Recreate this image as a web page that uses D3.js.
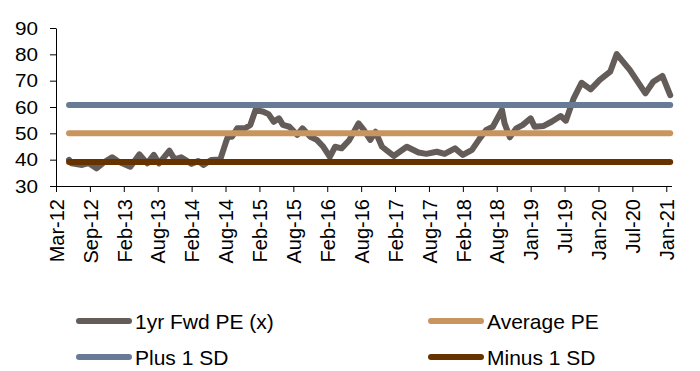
<!DOCTYPE html>
<html><head><meta charset="utf-8">
<script src="https://cdn.jsdelivr.net/npm/d3@7"></script>
<style>
body{margin:0;background:#fff}
svg{display:block}
text{font-family:Arial,"Liberation Sans",sans-serif;fill:#000}
</style>
</head><body>
<svg id="chart" width="700" height="371"></svg>
<script>
// ---- data ----
const tickLabels = ["Mar-12","Sep-12","Feb-13","Aug-13","Feb-14","Aug-14","Feb-15","Aug-15","Feb-16","Aug-16","Feb-17","Aug-17","Feb-18","Aug-18","Jan-19","Jul-19","Jan-20","Jul-20","Jan-21"];
const weeksPerLabel = 26;
const yTicks = [30,40,50,60,70,80,90];
const peWeeks = [10,12,20,25,31,36,43,48,53,57,64,70,75,79,87,91,96,104,109,113,119,126,130,132,135,139,145,149,153,159,163,167,171,174,179,185,189,195,200,205,210,214,219,225,232,236,241,245,250,259,269,278,284,292,298,306,312,319,325,330,335,342,344,348,353,358,364,367,374,380,387,391,397,403,410,417,425,430,440,452,458,465,471];
const peValues = [39.9,38.6,38.0,38.7,36.7,38.7,40.9,39.2,38.2,37.3,42.0,38.6,41.8,38.6,43.4,40.1,40.9,38.4,39.5,38.0,39.9,40.1,46.2,49.0,48.7,51.9,51.9,53.2,58.9,58.2,57.3,54.4,55.7,53.2,52.5,49.4,51.9,48.7,47.5,44.9,41.1,44.9,44.3,47.5,53.8,51.3,47.5,50.6,44.9,41.4,44.9,42.7,42.2,43.0,42.2,44.3,41.8,43.7,48.1,51.3,52.5,58.9,53.8,48.5,51.9,53.2,55.7,52.5,52.8,54.4,56.6,54.8,63.3,69.2,66.7,70.3,73.4,80.1,74.1,65.2,69.6,71.8,64.5];
const bandWeeks = [10, 471];
const averagePE = 50.0;
const plus1SD = 60.8;
const minus1SD = 39.1;

const series = [
  {name:"1yr Fwd PE (x)", color:"#645C58"},
  {name:"Average PE", color:"#C9955F"},
  {name:"Plus 1 SD", color:"#687B96"},
  {name:"Minus 1 SD", color:"#663300"}
];

// ---- chart ----
const svg = d3.select("#chart");
const x = d3.scaleLinear().domain([0, 472]).range([56, 671.5]);
const y = d3.scaleLinear().domain([30, 90]).range([186, 28]);

const line = d3.line().x(d => x(d[0])).y(d => y(d[1]));

// series
svg.append("path")
  .datum(peWeeks.map((w,i) => [w, peValues[i]]))
  .attr("d", line)
  .attr("fill","none").attr("stroke", series[0].color)
  .attr("stroke-width",6).attr("stroke-linejoin","round").attr("stroke-linecap","round");

[[averagePE,1],[plus1SD,2],[minus1SD,3]].forEach(([v,k]) => {
  svg.append("path")
    .datum(bandWeeks.map(w => [w, v]))
    .attr("d", line)
    .attr("fill","none").attr("stroke", series[k].color)
    .attr("stroke-width",6).attr("stroke-linecap","round");
});

// y axis
const yAxis = svg.append("g").attr("transform","translate(56,0)")
  .call(d3.axisLeft(y).tickValues(yTicks).tickSize(6).tickSizeOuter(0));
yAxis.selectAll("text")
  .style("font-size","18px").attr("fill","#000")
  .attr("x", -18/1.15).attr("dy","0.35em")
  .attr("transform","scale(1.15,1)");
yAxis.selectAll("line,path").attr("stroke","#000");

// x axis
const xAxis = svg.append("g").attr("transform","translate(0,186)")
  .call(d3.axisBottom(x).tickValues(tickLabels.map((d,i)=>i*weeksPerLabel))
    .tickFormat((d,i)=>tickLabels[i]).tickSize(6).tickSizeOuter(0));
xAxis.selectAll("line,path").attr("stroke","#000");
xAxis.selectAll("text")
  .style("font-size","20px").attr("fill","#000")
  .attr("transform","rotate(-90)")
  .attr("text-anchor","end")
  .attr("x",-13).attr("y",0).attr("dy","0.36em");

// legend
const legendPos = [[76,321],[428,321],[76,357],[428,357]];
const legend = svg.append("g");
series.forEach((s,i) => {
  const [lx,ly] = legendPos[i];
  legend.append("line").attr("x1",lx+3).attr("x2",lx+53).attr("y1",ly).attr("y2",ly)
    .attr("stroke",s.color).attr("stroke-width",6).attr("stroke-linecap","round");
  legend.append("text").attr("x",lx+59).attr("y",ly+7.5)
    .style("font-size","21px").text(s.name);
});
</script>
</body></html>
